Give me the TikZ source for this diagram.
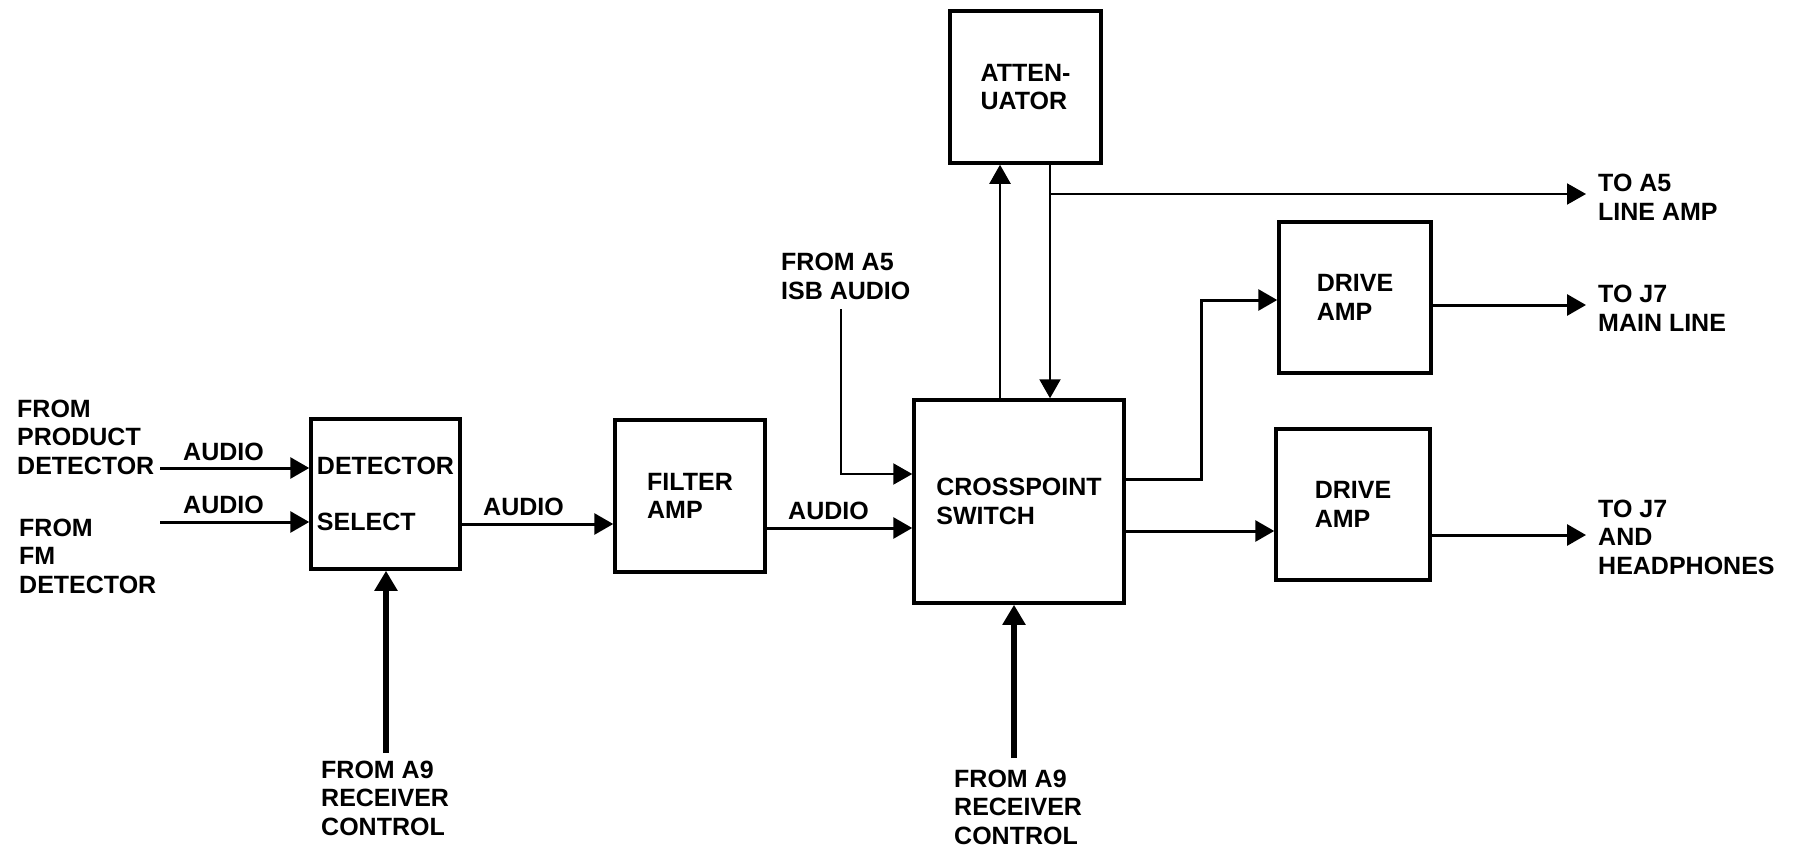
\documentclass[tikz,border=0pt]{standalone}
\usepackage{fontspec}
\setmainfont{Liberation Sans}
\usetikzlibrary{arrows.meta}
\tikzset{
  lbl/.style={font=\fontsize{25}{28.6}\selectfont\bfseries, inner sep=0pt, align=left},
  blk/.style={draw, line width=3.5pt, inner sep=0pt, align=left,
    font=\fontsize{25}{28.6}\selectfont\bfseries},
  arr/.style={line width=3pt, -{Triangle[length=19pt,width=21pt]}},
  thinarr/.style={line width=2.2pt, -{Triangle[length=19pt,width=21pt]}},
  thickarr/.style={line width=5.5pt, -{Triangle[length=20pt,width=22pt]}}
}
\begin{document}
\begin{tikzpicture}[x=1pt,y=-1pt]
\useasboundingbox[fill=white] (0,0) rectangle (1795,848);

% blocks
\node[blk, minimum width=149pt, minimum height=150pt] (det) at (385.5,494) {DETECTOR\\[27pt]SELECT};
\node[blk, minimum width=150pt, minimum height=152pt] (filt) at (690,496) {FILTER\\AMP};
\node[blk, minimum width=210pt, minimum height=203pt] (cross) at (1019,501.5) {CROSSPOINT\\SWITCH};
\node[blk, minimum width=151pt, minimum height=152pt] (att) at (1025.5,87) {ATTEN-\\UATOR};
\node[blk, minimum width=152pt, minimum height=151pt] (drv1) at (1355,297.5) {DRIVE\\AMP};
\node[blk, minimum width=154pt, minimum height=151pt] (drv2) at (1353,504.5) {DRIVE\\AMP};

% texts
\node[lbl, anchor=west] (tprod) at (17,437) {FROM\\PRODUCT\\DETECTOR};
\node[lbl, anchor=west] (tfm) at (19,556) {FROM\\FM\\DETECTOR};
\node[lbl, anchor=west] (au1) at (183,452) {AUDIO};
\node[lbl, anchor=west] (au2) at (183,505) {AUDIO};
\node[lbl, anchor=west] (au3) at (483,507) {AUDIO};
\node[lbl, anchor=west] (au4) at (788,511) {AUDIO};
\node[lbl, anchor=west] (tisb) at (781,276.5) {FROM A5\\ISB AUDIO};
\node[lbl, anchor=west] (ta5) at (1598,197.5) {TO A5\\LINE AMP};
\node[lbl, anchor=west] (tmain) at (1598,308.5) {TO J7\\MAIN LINE};
\node[lbl, anchor=west] (thp) at (1598,537) {TO J7\\AND\\HEADPHONES};
\node[lbl, anchor=west] (ta9a) at (321,798) {FROM A9\\RECEIVER\\CONTROL};
\node[lbl, anchor=west] (ta9b) at (954,807) {FROM A9\\RECEIVER\\CONTROL};

% free ends
\coordinate (in1) at (160,468);
\coordinate (in2) at (160,522);
\coordinate (isb) at (841,309);
\coordinate (tap) at (1050,194);
\coordinate (oa5) at (1586,194);
\coordinate (omain) at (1586,305);
\coordinate (ohp) at (1586,535);
\coordinate (a9a) at (386,753);
\coordinate (a9b) at (1014,758);

% connectors
\draw[arr] (in1) -- (in1 -| det.west);
\draw[arr] (in2) -- (in2 -| det.west);
\draw[arr] ([yshift=-30pt]det.east) -- ([yshift=-30pt]det.east -| filt.west);
\draw[arr] ([yshift=-32pt]filt.east) -- ([yshift=-32pt]filt.east -| cross.west);
\draw[thinarr] (isb) |- ([yshift=27.5pt]cross.west);
\draw[thinarr] ([xshift=-25.5pt]att.south |- cross.north) -- ([xshift=-25.5pt]att.south);
\draw[thinarr] ([xshift=24.5pt]att.south) -- ([xshift=24.5pt]att.south |- cross.north);
\draw[line width=2pt, -{Triangle[length=19pt,width=21pt]}] (tap) -- (oa5);
\draw[arr] ([yshift=22.5pt]cross.east) -- ++(76,0) |- ([yshift=-2.5pt]drv1.west);
\draw[arr] ([yshift=-29.5pt]cross.east) -- ([yshift=-29.5pt]cross.east -| drv2.west);
\draw[arr] ([yshift=-7.5pt]drv1.east) -- (omain);
\draw[arr] ([yshift=-30.5pt]drv2.east) -- (ohp);
\draw[thickarr] (a9a) -- (a9a |- det.south);
\draw[thickarr] (a9b) -- (a9b |- cross.south);
\end{tikzpicture}
\end{document}
